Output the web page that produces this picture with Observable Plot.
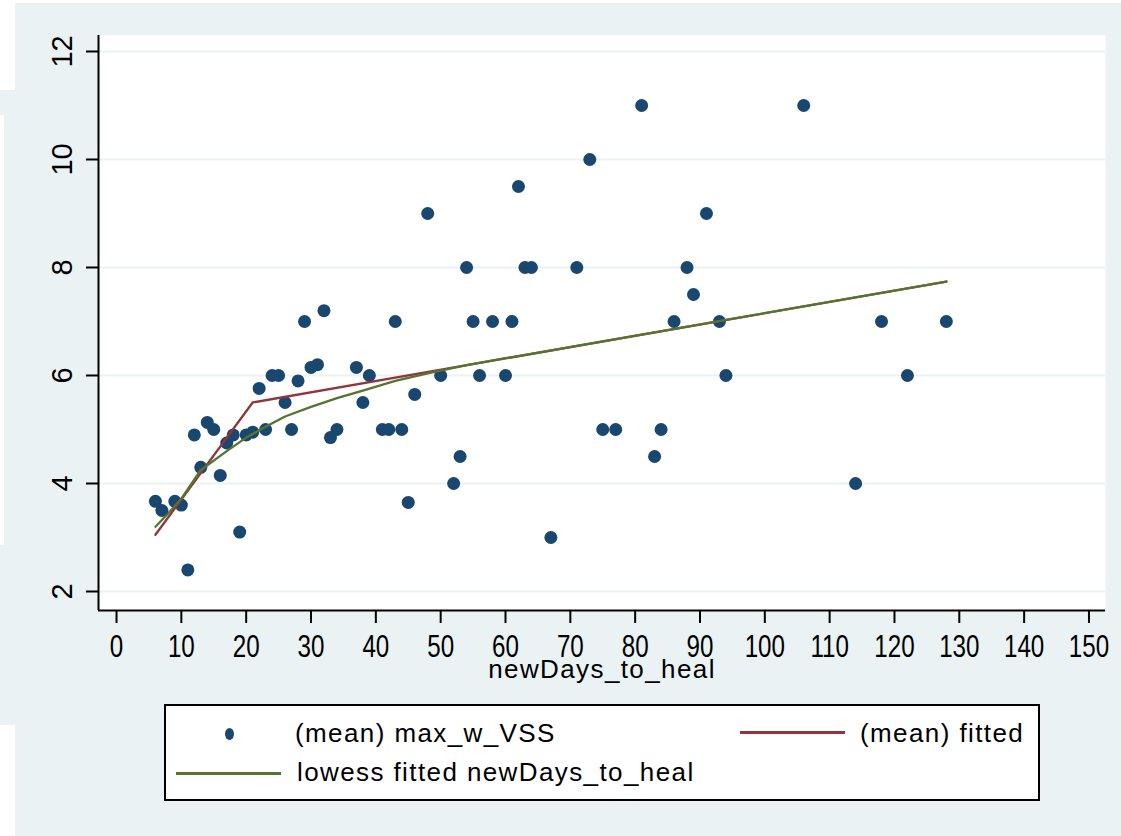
<!DOCTYPE html>
<html>
<head>
<meta charset="utf-8">
<script src="https://cdn.jsdelivr.net/npm/d3@7"></script>
<script src="https://cdn.jsdelivr.net/npm/@observablehq/plot@0.6"></script>
<style>
  html, body { margin: 0; padding: 0; }
  body { width: 1121px; height: 836px; overflow: hidden; }
  #page { position: relative; width: 1121px; height: 836px; background: #eaf2f3;
          font-family: "Liberation Sans", Arial, sans-serif; color: #000; }
  #chart { position: absolute; left: 0; top: 0; }
  .patch { position: absolute; background: #fff; }
  #legend { position: absolute; left: 164px; top: 704px; width: 876px; height: 97px;
            box-sizing: border-box; border: 2px solid #000; background: #fff; }
  #legend .txt { position: absolute; font-size: 26px; line-height: 26px; letter-spacing: 1.4px; white-space: nowrap; }
  #legend .sw { position: absolute; height: 2.5px; }
  #legend .mk { position: absolute; width: 9px; height: 12px; border-radius: 50%; background: #1a476f; }
</style>
</head>
<body>
<div id="page">
  <div class="patch" style="left:0;top:0;width:1121px;height:3px"></div>
  <div class="patch" style="left:0;top:0;width:15px;height:90px"></div>
  <div class="patch" style="left:0;top:115px;width:4px;height:430px"></div>
  <div class="patch" style="left:0;top:725px;width:15px;height:111px"></div>
  <div id="chart"></div>
  <div id="legend"></div>
</div>
<script>
// Scatter: mean of max_w_VSS by days to heal
const days = [6, 7, 9, 10, 11, 12, 13, 14, 15, 16, 17, 18, 19, 20, 21, 22, 23, 24, 25, 26, 27, 28, 29, 30, 31, 32, 33, 34,
              37, 38, 39, 41, 42, 43, 44, 45, 46, 48, 50, 52, 53, 54, 55, 56, 58, 60, 61, 62, 63, 64, 67, 71, 73, 75, 77,
              81, 83, 84, 86, 88, 89, 91, 93, 94, 106, 114, 118, 122, 128];
const vss  = [3.67, 3.5, 3.67, 3.6, 2.4, 4.9, 4.3, 5.13, 5.0, 4.15, 4.75, 4.9, 3.1, 4.9, 4.95, 5.76, 5.0, 6.0, 6.0, 5.5, 5.0, 5.9, 7.0, 6.15, 6.2, 7.2, 4.85, 5.0,
              6.15, 5.5, 6.0, 5.0, 5.0, 7.0, 5.0, 3.65, 5.65, 9.0, 6.0, 4.0, 4.5, 8.0, 7.0, 6.0, 7.0, 6.0, 7.0, 9.5, 8.0, 8.0, 3.0, 8.0, 10.0, 5.0, 5.0,
              11.0, 4.5, 5.0, 7.0, 8.0, 7.5, 9.0, 7.0, 6.0, 11.0, 4.0, 7.0, 6.0, 7.0];

// Piecewise-linear fitted means (knot at 21 days)
const fitDays = [6, 21, 128];
const fitVals = [3.05, 5.5, 7.74];

// Lowess smooth
const lowessDays = [6, 8, 10, 13, 17, 20, 23, 26, 30, 34, 38, 43, 48, 54, 60, 66, 73, 85, 96, 106, 116, 128];
const lowessVals = [3.2, 3.45, 3.72, 4.25, 4.6, 4.85, 5.05, 5.24, 5.42, 5.58, 5.72, 5.9, 6.04, 6.19, 6.32, 6.44, 6.59, 6.84, 7.07, 7.28, 7.49, 7.74];

// Axis ticks and labels
const xTicks = [0, 10, 20, 30, 40, 50, 60, 70, 80, 90, 100, 110, 120, 130, 140, 150];
const yTicks = [2, 4, 6, 8, 10, 12];
const xTitle = "newDays_to_heal";
const legendItems = ["(mean) max_w_VSS", "(mean) fitted", "lowess fitted newDays_to_heal"];

const navy = "#1a476f", maroon = "#90353b", green = "#55752f", grid = "#eaf2f3";

const points = days.map((d, i) => ({x: d, y: vss[i]}));
const fitted = fitDays.map((d, i) => ({x: d, y: fitVals[i]}));
const lowess = lowessDays.map((d, i) => ({x: d, y: lowessVals[i]}));

const xDomain = [-2.78, 152.55];
const yDomain = [1.648, 12.296];

const chart = Plot.plot({
  width: 1121,
  height: 700,
  marginLeft: 98,
  marginRight: 16,
  marginTop: 35,
  marginBottom: 90,
  style: {background: "transparent", fontFamily: "'Liberation Sans', Arial, sans-serif", color: "#000", overflow: "visible"},
  x: {domain: xDomain},
  y: {domain: yDomain},
  marks: [
    Plot.frame({fill: "#fff", stroke: null}),
    Plot.ruleY(yTicks, {stroke: grid, strokeWidth: 2}),
    Plot.dot(points, {x: "x", y: "y", r: 6.5, fill: navy, stroke: null}),
    Plot.line(fitted, {x: "x", y: "y", stroke: maroon, strokeWidth: 2.3}),
    Plot.line(lowess, {x: "x", y: "y", stroke: green, strokeWidth: 2.3}),
    // axis lines
    Plot.ruleX([xDomain[0]], {stroke: "#000", strokeWidth: 2}),
    Plot.ruleY([yDomain[0]], {stroke: "#000", strokeWidth: 2}),
    // ticks
    Plot.axisX({ticks: xTicks, tickSize: 13, tickFormat: () => "", label: null, stroke: "#000", strokeWidth: 2}),
    Plot.axisY({ticks: yTicks, tickSize: 12, tickFormat: () => "", label: null, stroke: "#000", strokeWidth: 2}),
    // tick labels and axis title
    Plot.text(xTicks, {x: d => d, y: () => yDomain[0], text: d => String(d), dy: 37, fontSize: 31, fill: "#000"}),
    Plot.text(yTicks, {x: () => xDomain[0], y: d => d, text: d => String(d), dx: -36, rotate: -90, fontSize: 29, fill: "#000"}),
    Plot.text([xTitle], {frameAnchor: "bottom", dy: 67, fontSize: 26, fill: "#000"})
  ]
});
document.getElementById("chart").appendChild(chart);

// text groups, in mark order: x tick labels, y tick labels, x title
const textGroups = chart.querySelectorAll('g[aria-label="text"]');

// Stata-style narrow digits on the x axis
for (const t of textGroups[0].querySelectorAll("text")) {
  const tr = t.getAttribute("transform");
  if (tr) {
    t.setAttribute("transform", tr + " scale(0.78,1)");
  } else {
    const x = +t.getAttribute("x") || 0, y = +t.getAttribute("y") || 0;
    t.removeAttribute("x"); t.removeAttribute("y");
    t.setAttribute("transform", `translate(${x},${y}) scale(0.78,1)`);
  }
}
for (const t of textGroups[2].querySelectorAll("text")) {
  t.style.letterSpacing = "1.4px";
}

// Legend
const legend = document.getElementById("legend");
const L = 164, T = 704;
function add(cls, left, top, extra) {
  const el = document.createElement("div");
  el.className = cls;
  el.style.left = (left - L - 2) + "px";
  el.style.top = (top - T - 2) + "px";
  Object.assign(el.style, extra || {});
  legend.appendChild(el);
  return el;
}
add("mk", 225, 728);
add("txt", 295, 720).textContent = legendItems[0];
add("sw", 740, 731, {width: "105px", background: maroon});
add("txt", 860, 720).textContent = legendItems[1];
add("sw", 176, 772, {width: "105px", background: green});
add("txt", 297, 759).textContent = legendItems[2];
</script>
</body>
</html>
